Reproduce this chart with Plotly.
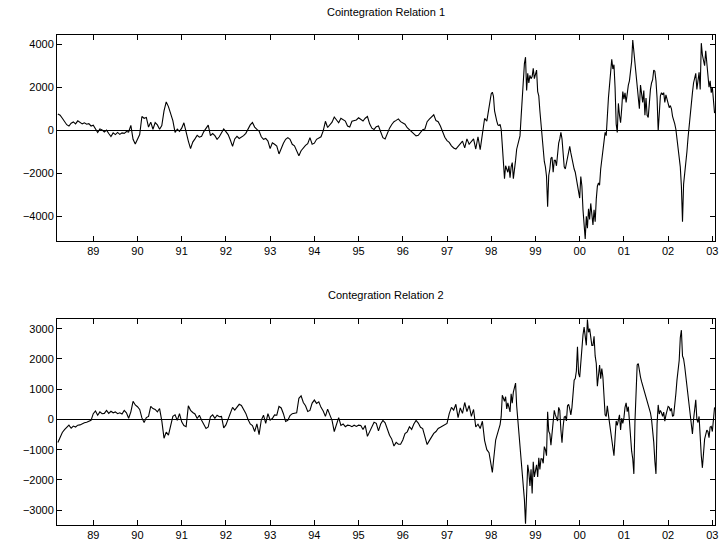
import numpy as np
import plotly.graph_objects as go
from plotly.subplots import make_subplots

# Two sampling segments (decimal years):
# early part every 0.05 year from 1988.20, late (volatile) part every 0.025 year from 1998.00
EARLY_START, EARLY_STEP = 1988.20, 0.05
LATE_START, LATE_STEP = 1998.00, 0.025

relation1_early = [
    760, 700, 560, 420, 260, 200, 330, 390, 300, 440, 360, 300, 350, 280, 310, 200,
    240, 60, -100, 60, 20, -80, 10, -150, -290, -120, -200, -100, -190, -120, -140, -60, -80, 230, -420, -640,
    -400, -200, 640, 560, 600, 150, 380, 50, 360, 250, 50, 220, 900, 1320, 1100, 780, 450, -100, 50, -50,
    100, 350, -150, -500, -850, -550, -400, -230, -320, -280, -60, 100, 240, -250, -150, -250, -420, -300, -100, 60,
    -60, -200, -450, -750, -400, -280, -380, -330, -250, -140, 50, 250, 360, 150, 40, -40, -300, -420, -380, -500,
    -850, -580, -650, -730, -1100, -800, -600, -420, -340, -420, -650, -720, -1000, -1180, -950, -800, -700, -620, -340, -650,
    -600, -420, -360, -300, -30, 420, 130, 250, 380, 620, 500, 350, 560, 500, 430, 200, 150, 420, 460, 480,
    580, 500, 430, 560, 640, 300, 100, 40, 170, 200, -100, -340, -400, -100, 100, 270, 400, 460, 530, 400,
    330, 280, 120, 20, -80, -200, -260, -230, -80, 30, 60, 400, 520, 620, 720, 450, 400, 200, -100, -320,
    -480, -560, -720, -820, -870, -760, -600, -500, -820, -400, -650, -520, -400, -870, -300, -900, -100, 550, 430, 1100,
]

relation1_late = [
    1700, 1770, 1580, 900, 600, 430, 250, 220, 280, 50, -700, -1650, -2250, -1650, -1800, -1950, -1650, -2200, -1700, -1500,
    -2250, -1900, -1400, -880, -650, -450, -260, 600, 1500, 2350, 3100, 3400, 1850, 2650, 2200, 2550, 2400, 2500, 2880, 2400,
    2600, 2800, 1800, 1600, 900, 300, -500, -1200, -1450, -1700, -2150, -3550, -2100, -1800, -1300, -1250, -1950, -1400, -1400, -1650,
    -900, -600, -400, -100, -400, -1200, -1700, -1800, -1500, -1250, -1000, -750, -1050, -1350, -1650, -1800, -1950, -2250, -2600, -2850,
    -3150, -2150, -2600, -3700, -4700, -5050, -4000, -4550, -3650, -4150, -3400, -3800, -4400, -3700, -4250, -3200, -2600, -2450, -2550, -1800,
    -1300, -1000, -300, -100, -250, 800, 1500, 2100, 3000, 3300, 2850, 3050, 2000, 300, -100, 1250, 700, 350, 1000, 1800,
    1450, 1740, 1300, 1900, 2100, 2300, 2850, 3200, 4200, 3700, 2900, 2500, 2000, 1600, 1000, 2100, 1700, 1300, 1850, 700,
    1500, 700, 600, 1450, 1900, 2200, 2350, 2800, 2750, 2300, 1500, -30, 800, 1600, 1750, 1650, 1750, 1300, 1650, 1400,
    1150, 1050, 1150, 1000, 650, 500, 300, 50, -350, -800, -1200, -1700, -2600, -4250, -2500, -2000, -1750, -1000, -350, 250,
    650, 1200, 1750, 2200, 2450, 2650, 1900, 2300, 2700, 1900, 4050, 3500, 3300, 3000, 3700, 3200, 2400, 2000, 2300, 1750,
    2000, 1400, 800,
]

relation2_early = [
    -760, -560, -430, -340, -250, -190, -290, -220, -250, -190, -180, -130, -110, -90, -50, -30,
    190, 280, 140, 250, 190, 200, 300, 200, 270, 220, 250, 190, 220, 180, 300, 220, 40, 250, 600, 480,
    420, 330, 50, -100, 60, 100, 430, 360, 330, 250, 360, -50, -620, -420, -520, -150, 100, 150, -30, 190,
    -80, -200, -240, 450, 300, 230, 180, 30, 140, -30, -150, -300, -250, 90, 150, 40, 140, 90, 100, -280,
    -180, 30, 200, 400, 310, 420, 500, 460, 330, 200, 0, -150, -200, -400, -150, -500, -20, 140, -130, 190,
    -20, 30, 150, 140, 430, 380, 190, -70, -30, 130, 190, 210, 220, 700, 780, 560, 450, 260, 300, 540,
    640, 530, 580, 400, 280, 100, 340, 150, -30, -400, -200, 60, -200, -150, -240, -190, -200, -240, -190, -230,
    -190, -200, -330, -200, -560, -400, -250, -90, -130, -380, -150, -30, -110, -330, -520, -650, -880, -760, -820, -820,
    -680, -470, -410, -240, -330, -150, -30, -120, -260, -300, -550, -830, -700, -580, -460, -400, -300, -260, -220, -170,
    -130, 190, 400, 310, 500, 60, 380, 200, 560, 260, 460, 100, 330, -250, -160, -300, -60, -700, -1000, -1100,
]

relation2_late = [
    -1650, -1750, -1380, -900, -680, -550, -430, -300, -170, 100, 800, 700, 600, 750, 350, 550, 400, 250, 850, 540,
    900, 1100, 1200, 450, 0, -500, -900, -1350, -1800, -2200, -2650, -3450, -2100, -1500, -1750, -2200, -1650, -2450, -1400, -1900,
    -1700, -1500, -1900, -1270, -1650, -1300, -1300, -1450, -900, -1000, -1200, 250, -390, -480, -850, -450, -50, 300, 150, 40,
    -50, 400, 300, -350, -770, -250, 80, 100, -50, 450, 500, 350, 150, 400, 850, 1300, 1350, 1600, 2400, 1520,
    1400, 2000, 2450, 2800, 3050, 2700, 2450, 3300, 2880, 3000, 2700, 2450, 2450, 2750, 2100, 1850, 1100, 1400, 1800, 1350,
    1680, 1400, 700, 150, 100, 450, 150, -130, -320, -600, -1000, -1200, -610, -50, -200, -50, 150, -350, 40, -130,
    50, 400, 550, 260, 420, -50, -650, -1050, -1300, -1800, -70, 1050, 1800, 1850, 1550, 1400, 1250, 1130, 980, 850,
    740, 600, 470, 360, 220, 0, -300, -750, -1380, -1800, -150, 480, 180, 300, 220, 100, 240, -60, 140, 320,
    430, 400, 280, 370, 100, 130, 400, 850, 1300, 1650, 1950, 2700, 2950, 2100, 2000, 1750, 1450, 1150, 800, 350,
    50, -250, -480, 0, 350, 650, 0, -100, 100, -650, -1200, -1600, -950, -650, -500, -350, -400, -600, -250, -230,
    -400, 100, 400,
]

titles = ["Cointegration Relation 1", "Contegration Relation 2"]
tick_years = list(range(1989, 2004))
tick_labels = ["%02d" % (y % 100) for y in tick_years]
y1_ticks = [-4000, -2000, 0, 2000, 4000]
y2_ticks = [-3000, -2000, -1000, 0, 1000, 2000, 3000]


def time_axis(early, late):
    t_early = EARLY_START + EARLY_STEP * np.arange(len(early))
    t_late = LATE_START + LATE_STEP * np.arange(len(late))
    return np.round(np.concatenate([t_early, t_late]), 3)


years1 = time_axis(relation1_early, relation1_late)
years2 = time_axis(relation2_early, relation2_late)
vals1 = relation1_early + relation1_late
vals2 = relation2_early + relation2_late

fig = make_subplots(rows=2, cols=1, vertical_spacing=0.0)
fig.add_trace(go.Scatter(x=years1, y=vals1, mode="lines",
                         line=dict(color="black", width=1.1)), row=1, col=1)
fig.add_trace(go.Scatter(x=years2, y=vals2, mode="lines",
                         line=dict(color="black", width=1.1)), row=2, col=1)

font = dict(family="Liberation Sans, Arial, sans-serif", size=11, color="black")
axis_common = dict(showline=True, linecolor="black", linewidth=1, mirror="ticks",
                   ticks="inside", ticklen=5, tickcolor="black", showgrid=False,
                   tickfont=font)

fig.update_layout(
    width=723, height=546,
    margin=dict(l=57, r=5, t=35, b=17),
    paper_bgcolor="white", plot_bgcolor="white",
    showlegend=False,
    xaxis=dict(domain=[0, 1], range=[1988.18, 2003.06], tickvals=tick_years,
               ticktext=tick_labels, zeroline=False, **axis_common),
    xaxis2=dict(domain=[0, 1], range=[1988.18, 2003.06], tickvals=tick_years,
                ticktext=tick_labels, zeroline=False, **axis_common),
    yaxis=dict(domain=[0.579, 1.0], range=[-5160, 4430], tickvals=y1_ticks,
               zeroline=True, zerolinecolor="black", zerolinewidth=1, **axis_common),
    yaxis2=dict(domain=[0.0, 0.421], range=[-3490, 3330], tickvals=y2_ticks,
                zeroline=True, zerolinecolor="black", zerolinewidth=1, **axis_common),
    annotations=[
        dict(text=titles[0], xref="paper", yref="paper", x=0.5, y=1.0466,
             xanchor="center", yanchor="middle", showarrow=False, font=font),
        dict(text=titles[1], xref="paper", yref="paper", x=0.5, y=0.4696,
             xanchor="center", yanchor="middle", showarrow=False, font=font),
    ],
)

fig.write_html("out.html")
